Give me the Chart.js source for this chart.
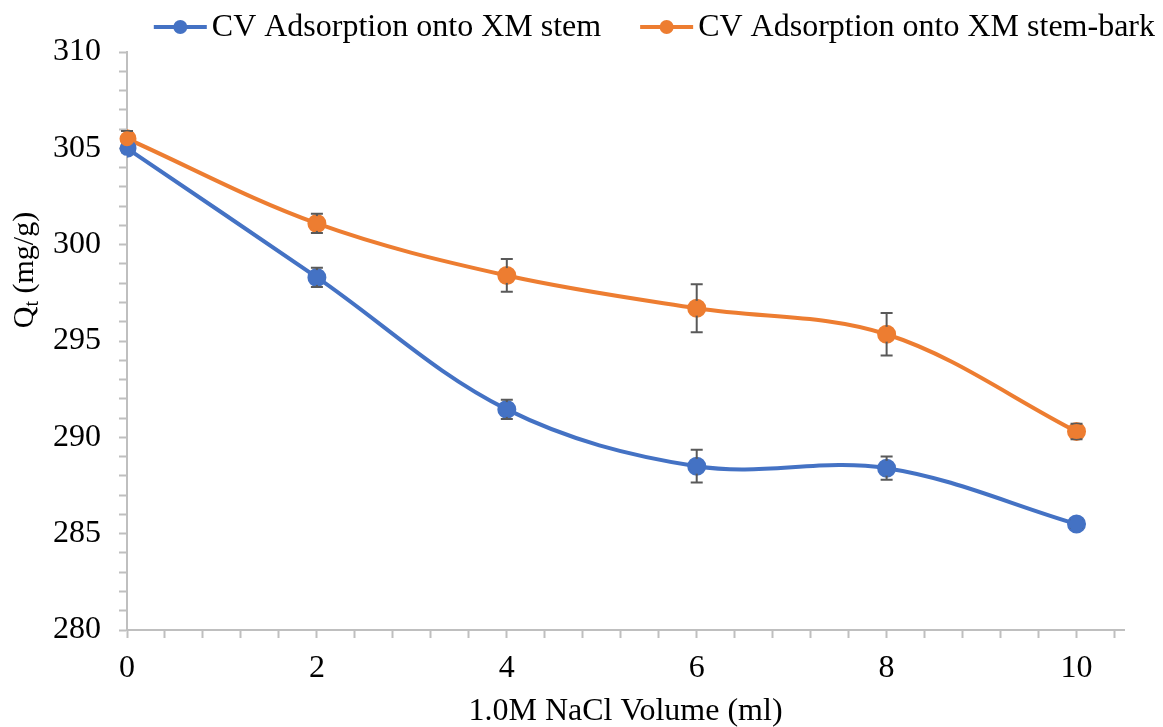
<!DOCTYPE html>
<html>
<head>
<meta charset="utf-8">
<script src="https://cdn.jsdelivr.net/npm/chart.js@4.4.0/dist/chart.umd.min.js"></script>
<style>
  body { margin: 0; background: #fff; }
</style>
</head>
<body>
<canvas id="myChart" width="1163" height="727"></canvas>
<script>
// data
var volumes = [0, 2, 4, 6, 8, 10];
var stemQt = [305.0, 298.3, 291.45, 288.5, 288.4, 285.5];
var stemErr = [0.2, 0.5, 0.5, 0.85, 0.6, 0.2];
var barkQt = [305.5, 301.1, 298.4, 296.7, 295.35, 290.3];
var barkErr = [0.4, 0.5, 0.85, 1.25, 1.1, 0.4];
var seriesNames = ["CV Adsorption onto XM stem", "CV Adsorption onto XM stem-bark"];
var seriesColors = ["#4472C4", "#ED7D31"];
var xTickLabels = [0, 2, 4, 6, 8, 10];
var yTickLabels = [280, 285, 290, 295, 300, 305, 310];

var FONT = "'Liberation Serif', 'Times New Roman', serif";

function toPoints(xs, ys) {
    var pts = [];
    for (var i = 0; i < xs.length; ++i) {
	pts.push({ x: xs[i], y: ys[i] });
    }
    return pts;
}

// error bars, drawn through the scales
var errorBars = {
    id: 'errorBars',
    afterDatasetsDraw: function(chart) {
	var ctx = chart.ctx, xs = chart.scales.x, ys = chart.scales.y;
	var errs = [stemErr, barkErr];
	ctx.save();
	ctx.strokeStyle = '#595959';
	ctx.lineWidth = 2;
	chart.data.datasets.forEach(function(ds, d) {
	    ds.data.forEach(function(p, i) {
		var x = xs.getPixelForValue(p.x);
		var top = ys.getPixelForValue(p.y + errs[d][i]);
		var bot = ys.getPixelForValue(p.y - errs[d][i]);
		ctx.beginPath();
		ctx.moveTo(x, top); ctx.lineTo(x, bot);
		ctx.moveTo(x - 6, top); ctx.lineTo(x + 6, top);
		ctx.moveTo(x - 6, bot); ctx.lineTo(x + 6, bot);
		ctx.stroke();
	    });
	});
	// redraw markers on top of the bars
	chart.data.datasets.forEach(function(ds, d) {
	    ctx.fillStyle = seriesColors[d];
	    ds.data.forEach(function(p) {
		ctx.beginPath();
		ctx.arc(xs.getPixelForValue(p.x), ys.getPixelForValue(p.y), 7.5, 0, Math.PI * 2);
		ctx.fill();
	    });
	});
	ctx.restore();
    }
};

// legend (line + marker) and the y title with its subscript
var extras = {
    id: 'extras',
    afterDraw: function(chart) {
	var ctx = chart.ctx;
	ctx.save();
	ctx.font = "32px " + FONT;
	ctx.textBaseline = 'middle';
	var lineLen = 53, gapText = 5, gapItem = 39, y = 27;
	var total = 0;
	seriesNames.forEach(function(n, i) {
	    total += lineLen + gapText + ctx.measureText(n).width;
	    if (i > 0) total += gapItem;
	});
	var x = 1155 - total;
	seriesNames.forEach(function(n, i) {
	    ctx.strokeStyle = seriesColors[i];
	    ctx.lineWidth = 4;
	    ctx.beginPath();
	    ctx.moveTo(x, y); ctx.lineTo(x + lineLen, y);
	    ctx.stroke();
	    ctx.fillStyle = seriesColors[i];
	    ctx.beginPath();
	    ctx.arc(x + lineLen / 2, y, 7, 0, Math.PI * 2);
	    ctx.fill();
	    ctx.fillStyle = '#000';
	    ctx.fillText(n, x + lineLen + gapText, y + 1);
	    x += lineLen + gapText + ctx.measureText(n).width + gapItem;
	});

	// Qt (mg/g)
	ctx.translate(25, 270);
	ctx.rotate(-Math.PI / 2);
	ctx.textBaseline = 'middle';
	var big = "30px " + FONT, small = "20px " + FONT;
	ctx.font = big;
	var wQ = ctx.measureText("Q").width;
	var wRest = ctx.measureText(" (mg/g)").width;
	ctx.font = small;
	var wt = ctx.measureText("t").width;
	var start = -(wQ + wt + wRest) / 2;
	ctx.font = big;
	ctx.fillText("Q", start, 0);
	ctx.font = small;
	ctx.fillText("t", start + wQ, 8);
	ctx.font = big;
	ctx.fillText(" (mg/g)", start + wQ + wt, 0);
	ctx.restore();
    }
};

function drawChart() {
    var ctx = document.getElementById("myChart").getContext("2d");
    var axisColor = '#bfbfbf';
    var myChart = new Chart(ctx, {
	type: 'line',
	data: {
	    datasets: [
		{ label: seriesNames[0], data: toPoints(volumes, stemQt),
		  borderColor: seriesColors[0], backgroundColor: seriesColors[0],
		  borderWidth: 4, pointRadius: 7.5, tension: 0.35 },
		{ label: seriesNames[1], data: toPoints(volumes, barkQt),
		  borderColor: seriesColors[1], backgroundColor: seriesColors[1],
		  borderWidth: 4, pointRadius: 7.5, tension: 0.35 }
	    ]
	},
	options: {
	    responsive: false,
	    animation: false,
	    layout: { padding: { top: 52, right: 39, left: 0, bottom: 0 } },
	    plugins: { legend: { display: false }, tooltip: { enabled: false } },
	    scales: {
		x: {
		    type: 'linear', min: 0, max: 10.5,
		    afterBuildTicks: function(scale) {
			var t = [];
			for (var i = 0; i <= 26; ++i) t.push({ value: i * 0.4 });
			scale.ticks = t;
		    },
		    afterFit: function(scale) { scale.height = 97; },
		    ticks: {
			autoSkip: false, maxRotation: 0, padding: 11, color: '#000',
			font: { family: FONT, size: 32 },
			callback: function(v) {
			    var r = Math.round(v * 10) / 10;
			    return xTickLabels.indexOf(r) >= 0 ? String(r) : '';
			}
		    },
		    grid: { drawOnChartArea: false, drawTicks: true, tickLength: 8, tickColor: axisColor, tickWidth: 2 },
		    border: { color: axisColor, width: 2 },
		    title: { display: true, text: '1.0M NaCl Volume (ml)', color: '#000',
			     font: { family: FONT, size: 32, lineHeight: 1 }, padding: { top: 0, bottom: -1 } }
		},
		y: {
		    min: 280, max: 310,
		    afterBuildTicks: function(scale) {
			var t = [];
			for (var v = 280; v <= 310; ++v) t.push({ value: v });
			scale.ticks = t;
		    },
		    afterFit: function(scale) { scale.width = 127; },
		    ticks: {
			autoSkip: false, padding: 18, color: '#000',
			font: { family: FONT, size: 32 },
			callback: function(v) {
			    return yTickLabels.indexOf(v) >= 0 ? String(v) : '';
			}
		    },
		    grid: { drawOnChartArea: false, drawTicks: true, tickLength: 8, tickColor: axisColor, tickWidth: 2 },
		    border: { color: axisColor, width: 2 }
		}
	    }
	},
	plugins: [errorBars, extras]
    });
}

drawChart();
</script>
</body>
</html>
